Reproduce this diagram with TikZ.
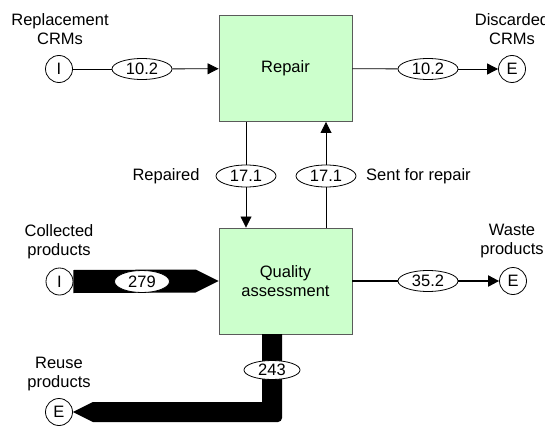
\documentclass[tikz,border=0pt]{standalone}
\usepackage{fontspec}
\setmainfont{Liberation Sans}
\usetikzlibrary{arrows.meta,calc,shapes.geometric}
\definecolor{procfill}{RGB}{204,255,204}
\definecolor{procedge}{RGB}{90,90,90}
\tikzset{
  txt/.style={font=\fontsize{16.5}{19}\selectfont, inner sep=0pt, align=center},
  process/.style={txt, draw=procedge, fill=procfill, line width=0.9pt,
    minimum width=133pt, minimum height=106pt},
  terminal/.style={txt, circle, draw=black, fill=white, line width=0.8pt,
    minimum size=27pt},
  flowval/.style={txt, ellipse, draw=black, fill=white, line width=0.8pt,
    minimum width=60pt, minimum height=21pt},
  flow/.style={draw=black, line width=0.8pt},
  flowarr/.style={flow, -{Triangle[length=11pt,width=11pt]}},
}
\begin{document}
\begin{tikzpicture}[x=1pt,y=-1pt]
\useasboundingbox (0,0) rectangle (545,425);

% processes
\node[process] (repair) at (285.5,68.5) {Repair};
\node[process] (qa) at (285.5,281) {Quality\\assessment};

% sources and sinks
\node[terminal] (i1) at (59,69) {I};
\node[terminal] (e1) at (512,69) {E};
\node[terminal] (i2) at (59.5,281.5) {I};
\node[terminal] (e2) at (513,281) {E};
\node[terminal] (e3) at (59,412) {E};

% labels
\node[txt] at (60,29.5) {Replacement\\CRMs};
\node[txt] at (512,29.5) {Discarded\\CRMs};
\node[txt] at (59,241.5) {Collected\\products};
\node[txt] at (512,241.5) {Waste\\products};
\node[txt] at (59,374) {Reuse\\products};
\node[txt] at (166,176) {Repaired};
\node[txt, anchor=west] at (366,176) {Sent for repair};

% flow values
\node[flowval] (v1) at (142,69) {10.2};
\node[flowval] (v2) at (428,69) {10.2};
\node[flowval, minimum height=22pt] (v3) at (246,176) {17.1};
\node[flowval, minimum height=22pt] (v4) at (326,176) {17.1};
\node[flowval] (v6) at (428,281) {35.2};

% thin flows
\draw[flow] (i1) -- (v1);
\draw[flowarr] (v1) -- (repair);
\draw[flow] (repair) -- (v2);
\draw[flowarr] (v2) -- (e1);
\draw[flow] (v3 |- repair.south) -- (v3);
\draw[flowarr] (v3) -- (v3 |- qa.north);
\draw[flow] (v4 |- qa.north) -- (v4);
\draw[flowarr] (v4) -- (v4 |- repair.south);
\draw[flow, line width=2pt] (qa) -- (v6);
\draw[flowarr, line width=2pt] (v6) -- (e2);

% thick flow: collected products
\fill[black] ($(i2.east)+(0,-11.5)$) -- ($(qa.west)+(-23,-11.5)$)
  -- (qa.west) -- ($(qa.west)+(-23,11.5)$) -- ($(i2.east)+(0,11.5)$) -- cycle;
\node[flowval, minimum width=55pt, minimum height=22pt] (v5) at (142,281.5) {279};

% thick flow: reuse products
\coordinate (qb) at (272,334);
\fill[black] ($(qb)+(-10,0)$) -- ($(qb)+(10,0)$) -- ($(qb)+(10,84)$)
  arc[start angle=0, end angle=90, radius=4]
  -- ($(e3.east)+(20,10)$) -- (e3.east) -- ($(e3.east)+(20,-10)$)
  -- ($(qb)+(-10,68)$) -- cycle;
\node[flowval, minimum width=56pt, minimum height=19pt] (v7) at (272,370) {243};
\end{tikzpicture}
\end{document}
